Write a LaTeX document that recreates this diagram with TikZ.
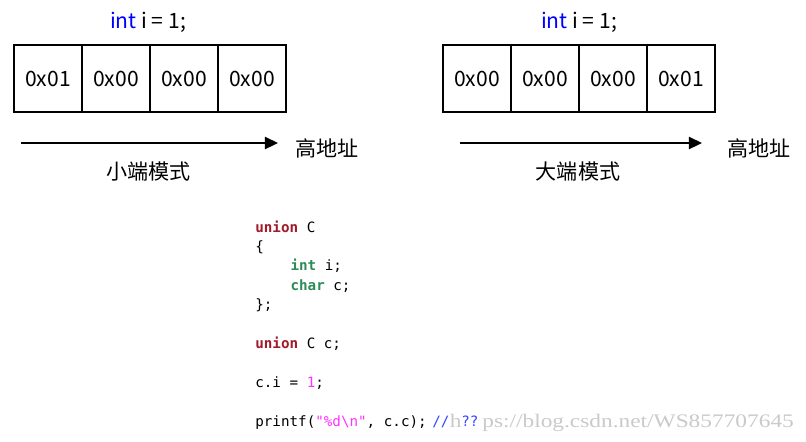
\documentclass[tikz,border=0pt]{standalone}
\usepackage{fontspec}
\usepackage{graphicx}
\usepackage{xcolor}
\setmainfont{Noto Sans CJK SC}
\newfontfamily\codefont{DejaVu Sans Mono}
\newfontfamily\markfont{Liberation Serif}
\usetikzlibrary{positioning,arrows.meta}
\definecolor{typeblue}{HTML}{0000FF}
\definecolor{kwred}{HTML}{A31A2A}
\definecolor{kwgreen}{HTML}{2E8B57}
\definecolor{litpink}{HTML}{FF33FF}
\definecolor{cmtblue}{HTML}{3344FF}
\definecolor{markgray}{HTML}{CACACA}
\newcommand\kwu[1]{\textcolor{kwred}{\bfseries #1}}
\newcommand\kwt[1]{\textcolor{kwgreen}{\bfseries #1}}
\tikzset{
  cell/.style={draw,line width=1pt,minimum width=1.36cm,minimum height=1.34cm,inner sep=0pt,outer sep=0pt},
  addr/.style={line width=1pt,-{Triangle[length=7.5pt,width=7pt]}},
  code/.style={font=\codefont\fontsize{8.1}{10}\selectfont,anchor=base west,inner sep=0pt},
  wmark/.style={font=\markfont\fontsize{10.9}{12}\selectfont,text=markgray,anchor=base west,inner sep=0pt}
}

\begin{document}
\begin{tikzpicture}[x=0.02cm,y=-0.02cm,every node/.style={font=\fontsize{12}{14}\selectfont}]
    \useasboundingbox[fill=white] (0,0) rectangle (806,441);
    % little endian
    \node[anchor=base] (ldecl) at (148,28) {\textcolor{typeblue}{int} i = 1;};
    \node[cell] (l1) at (48,78.5) {0x01};
    \node[cell,right=0pt of l1] (l2) {0x00};
    \node[cell,right=0pt of l2] (l3) {0x00};
    \node[cell,right=0pt of l3] (l4) {0x00};
    \coordinate (lstart) at (21,143);
    \coordinate (lend) at (278,143);
    \draw[addr] (lstart) -- (lend);
    \node[anchor=west,inner sep=0pt] (lhigh) at (295,148) {高地址};
    \node (lname) at (148.5,172) {小端模式};
    % big endian
    \node[anchor=base] (bdecl) at (579,28) {\textcolor{typeblue}{int} i = 1;};
    \node[cell] (b1) at (477,78.5) {0x00};
    \node[cell,right=0pt of b1] (b2) {0x00};
    \node[cell,right=0pt of b2] (b3) {0x00};
    \node[cell,right=0pt of b3] (b4) {0x01};
    \coordinate (bstart) at (460,143);
    \coordinate (bend) at (702,143);
    \draw[addr] (bstart) -- (bend);
    \node[anchor=west,inner sep=0pt] (bhigh) at (727,148) {高地址};
    \node (bname) at (578,172) {大端模式};
    % code
    \node[code] (u1) at (255,232) {\kwu{union} C};
    \node[code] (u2) at (255,251) {\{};
    \node[code] (u3) at (290.2,270) {\kwt{int} i;};
    \node[code] (u4) at (290.2,290) {\kwt{char} c;};
    \node[code] (u5) at (255,309) {\};};
    \node[code] (u6) at (255,348) {\kwu{union} C c;};
    \node[code] (u7) at (255,387) {c.i = \textcolor{litpink}{1};};
    \node[code] (u8) at (255,426) {printf(\textcolor{litpink}{"\%d\textbackslash n"}, c.c);};
    \node[code,text=cmtblue] (cslash) at (432,426) {//};
    \node[code,text=cmtblue] (cqq) at (461,426) {??};
    % watermark
    \node[wmark] (wmh) at (449.5,427) {\scalebox{1.22}[1]{h}};
    \node[wmark] (wmrest) at (482,427) {\scalebox{1.22}[1]{ps://blog.csdn.net/WS857707645}};
\end{tikzpicture}
\end{document}
